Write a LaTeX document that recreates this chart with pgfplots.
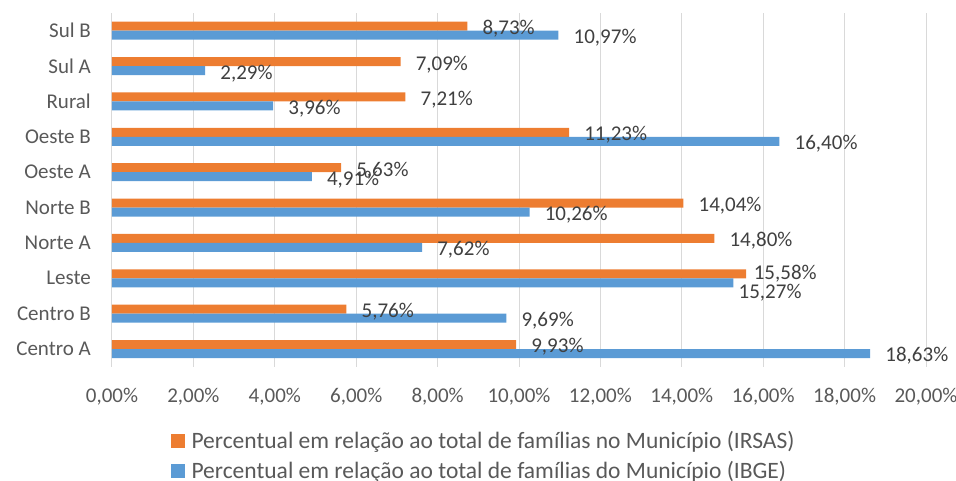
\documentclass[border=0pt]{standalone}
\usepackage{pgfplots}
\pgfplotsset{compat=1.18}
\usepackage{fontspec}
\setmainfont{Carlito}

\definecolor{irsas}{HTML}{ED7D31}
\definecolor{ibge}{HTML}{5B9BD5}
\definecolor{gridgray}{HTML}{D9D9D9}
\definecolor{ticktext}{HTML}{595959}
\definecolor{labeltext}{HTML}{404040}

\newcommand{\chartfont}{\fontsize{21bp}{25bp}\selectfont}
\newcommand{\legendfont}{\fontsize{23.5bp}{28bp}\selectfont}

% Share of families per region: IRSAS register vs. IBGE census.
% lx/ly give the offset of each value label from the end of its bar (bp);
% the two Leste labels are pulled apart so they do not collide.
\pgfplotstableread{
idx irsas lxo  lyo    ibge  lxb  lyb
0   9.93  15   -2.65  18.63 15   -2.65
1   5.76  15   -2.65  9.69  15   -2.65
2   15.58 7.5  -0.15  15.27 5    -10.15
3   14.80 15   -2.65  7.62  15   -2.65
4   14.04 15   -2.65  10.26 15   -2.65
5   5.63  15   -2.65  4.91  15   -2.65
6   11.23 15   -2.65  16.40 15   -2.65
7   7.21  15   -2.65  3.96  15   -2.65
8   7.09  15   -2.65  2.29  15   -2.65
9   8.73  15   -2.65  10.97 15   -2.65
}\regiondata

\begin{document}
\begin{tikzpicture}
\useasboundingbox (-112bp,-114.3bp) rectangle (844bp,366.7bp);
\begin{axis}[
  name=ax,
  scale only axis,
  width=814bp, height=353.7bp,
  xmin=0, xmax=20,
  ymin=-0.5, ymax=9.5,
  xbar, bar width=9bp,
  /pgf/number format/assume math mode=true,
  axis line style={draw=none},
  major tick length=0pt,
  tick style={draw=none},
  xtick={0,2,...,20},
  ytick={0,...,9},
  yticklabels={Centro A,Centro B,Leste,Norte A,Norte B,Oeste A,Oeste B,Rural,Sul A,Sul B},
  xmajorgrids,
  grid style={draw=gridgray, line width=1bp},
  xticklabel={\pgfmathprintnumber[fixed,fixed zerofill,precision=2,use comma]{\tick}\%},
  xticklabel style={font=\chartfont, text=ticktext, anchor=north, inner sep=0pt, yshift=-21.5bp},
  yticklabel style={font=\chartfont, text=ticktext, anchor=east, inner sep=0pt, xshift=-21bp},
  point meta=x,
  nodes near coords={\pgfmathprintnumber[fixed,fixed zerofill,precision=2,use comma]{\pgfplotspointmeta}\%},
  every node near coord/.append style={font=\chartfont, text=labeltext, anchor=west, inner sep=0pt,
    xshift=\labeldx bp, yshift=\labeldy bp},
  legend image code/.code={\fill[#1] (0bp,-7bp) rectangle (14bp,7bp);},
  legend cell align=left,
  legend style={
    at={(axis description cs:0.0725,-0.1883)}, anchor=north west,
    draw=none, fill=none, font=\legendfont, text=ticktext,
    row sep=14.7bp, inner sep=0pt, outer sep=0pt,
    nodes={inner sep=0pt, text height=15bp, text depth=0bp},
    /tikz/every odd column/.append style={column sep=6.5bp},
  },
]
\addplot[fill=irsas, draw=none, bar shift=4.5bp,
  visualization depends on={\thisrow{lxo} \as \labeldx},
  visualization depends on={\thisrow{lyo} \as \labeldy}]
  table[x=irsas, y=idx] {\regiondata};
\addlegendentry{Percentual em relação ao total de famílias no Município (IRSAS)}
\addplot[fill=ibge, draw=none, bar shift=-4.5bp,
  visualization depends on={\thisrow{lxb} \as \labeldx},
  visualization depends on={\thisrow{lyb} \as \labeldy}]
  table[x=ibge, y=idx] {\regiondata};
\addlegendentry{Percentual em relação ao total de famílias do Município (IBGE)}
\end{axis}
\end{tikzpicture}
\end{document}
